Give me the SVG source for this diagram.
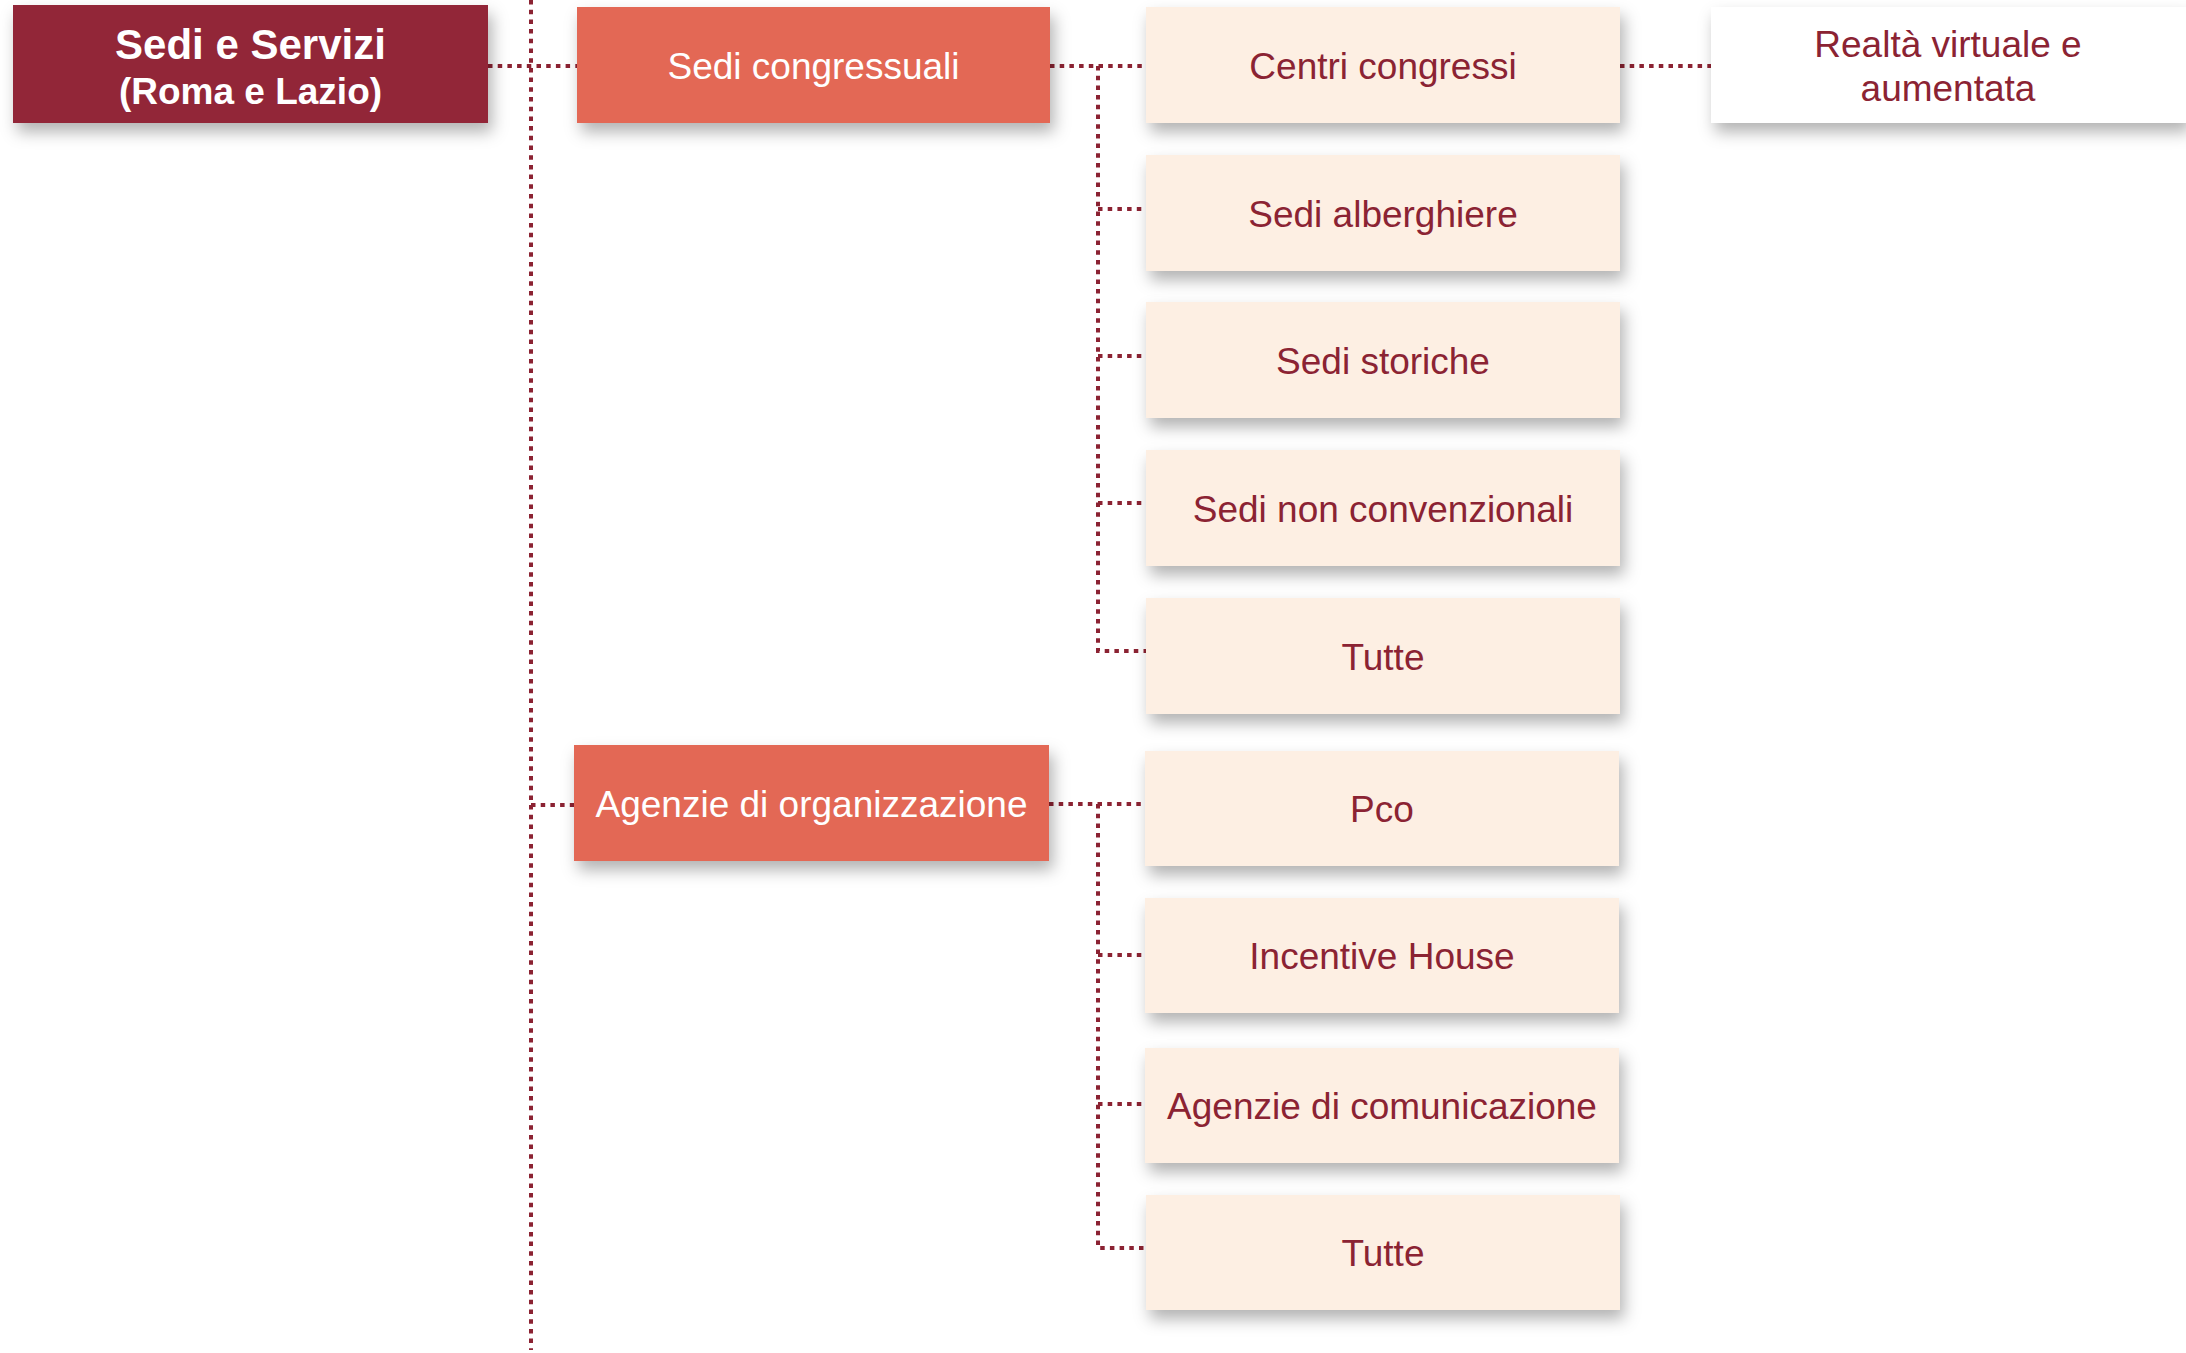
<svg xmlns="http://www.w3.org/2000/svg" width="2186" height="1353" viewBox="0 0 2186 1353">
<defs>
<filter id="sh" x="-10%" y="-30%" width="125%" height="170%">
<feDropShadow dx="4" dy="9" stdDeviation="8" flood-color="#000" flood-opacity="0.3"/>
</filter>
<style>
.conn{fill:none;stroke:#8B2232;stroke-width:4;stroke-dasharray:4.5 5.2;}
.root{fill:#922839;filter:url(#sh);}
.mid{fill:#E36854;filter:url(#sh);}
.leaf{fill:#FDEFE3;filter:url(#sh);}
.ext{fill:#FFFFFF;filter:url(#sh);}
.t{font-family:"Liberation Sans",Arial,sans-serif;font-size:37px;text-anchor:middle;}
.tw{fill:#FFFFFF;}
.tr{fill:#8B2333;}
.tb{font-weight:bold;fill:#FFFFFF;}
</style>
</defs>
<rect width="2186" height="1353" fill="#FFFFFF"/>
<g id="connectors">
<path class="conn" d="M531 0 V1350"/>
<path class="conn" d="M488 66 H577"/>
<path class="conn" d="M531 805 H574"/>
<path class="conn" d="M1050 66 H1146"/>
<path class="conn" d="M1098 66 V651 H1146"/>
<path class="conn" d="M1098 209 H1146"/>
<path class="conn" d="M1098 356 H1146"/>
<path class="conn" d="M1098 503 H1146"/>
<path class="conn" d="M1620 66 H1711"/>
<path class="conn" d="M1049 804 H1145"/>
<path class="conn" d="M1098 804 V1248 H1145"/>
<path class="conn" d="M1098 955 H1145"/>
<path class="conn" d="M1098 1104 H1145"/>
</g>
<g id="n-root">
<rect class="root" x="13" y="5" width="475" height="118"/>
<text class="t tb" x="250.5" y="59" style="font-size:42px">Sedi e Servizi</text>
<text class="t tb" x="250.5" y="104" style="font-size:37px">(Roma e Lazio)</text>
</g>
<g id="n-sedi">
<rect class="mid" x="577" y="7" width="473" height="116"/>
<text class="t tw" x="813.5" y="79">Sedi congressuali</text>
</g>
<g id="n-agenzie">
<rect class="mid" x="574" y="745" width="475" height="116"/>
<text class="t tw" x="811.5" y="817">Agenzie di organizzazione</text>
</g>
<g id="n-centri">
<rect class="leaf" x="1146" y="7" width="474" height="116"/>
<text class="t tr" x="1383" y="79">Centri congressi</text>
</g>
<g id="n-realta">
<rect class="ext" x="1711" y="7" width="475" height="116"/>
<text class="t tr" x="1948" y="57">Realtà virtuale e</text>
<text class="t tr" x="1948" y="101">aumentata</text>
</g>
<g id="n-alberghiere">
<rect class="leaf" x="1146" y="155" width="474" height="116"/>
<text class="t tr" x="1383" y="227">Sedi alberghiere</text>
</g>
<g id="n-storiche">
<rect class="leaf" x="1146" y="302" width="474" height="116"/>
<text class="t tr" x="1383" y="374">Sedi storiche</text>
</g>
<g id="n-nonconv">
<rect class="leaf" x="1146" y="450" width="474" height="116"/>
<text class="t tr" x="1383" y="522">Sedi non convenzionali</text>
</g>
<g id="n-tutte1">
<rect class="leaf" x="1146" y="598" width="474" height="116"/>
<text class="t tr" x="1383" y="670">Tutte</text>
</g>
<g id="n-pco">
<rect class="leaf" x="1145" y="751" width="474" height="115"/>
<text class="t tr" x="1382" y="822">Pco</text>
</g>
<g id="n-incentive">
<rect class="leaf" x="1145" y="898" width="474" height="115"/>
<text class="t tr" x="1382" y="969">Incentive House</text>
</g>
<g id="n-comunicazione">
<rect class="leaf" x="1145" y="1048" width="474" height="115"/>
<text class="t tr" x="1382" y="1119">Agenzie di comunicazione</text>
</g>
<g id="n-tutte2">
<rect class="leaf" x="1146" y="1195" width="474" height="115"/>
<text class="t tr" x="1383" y="1266">Tutte</text>
</g>
</svg>
